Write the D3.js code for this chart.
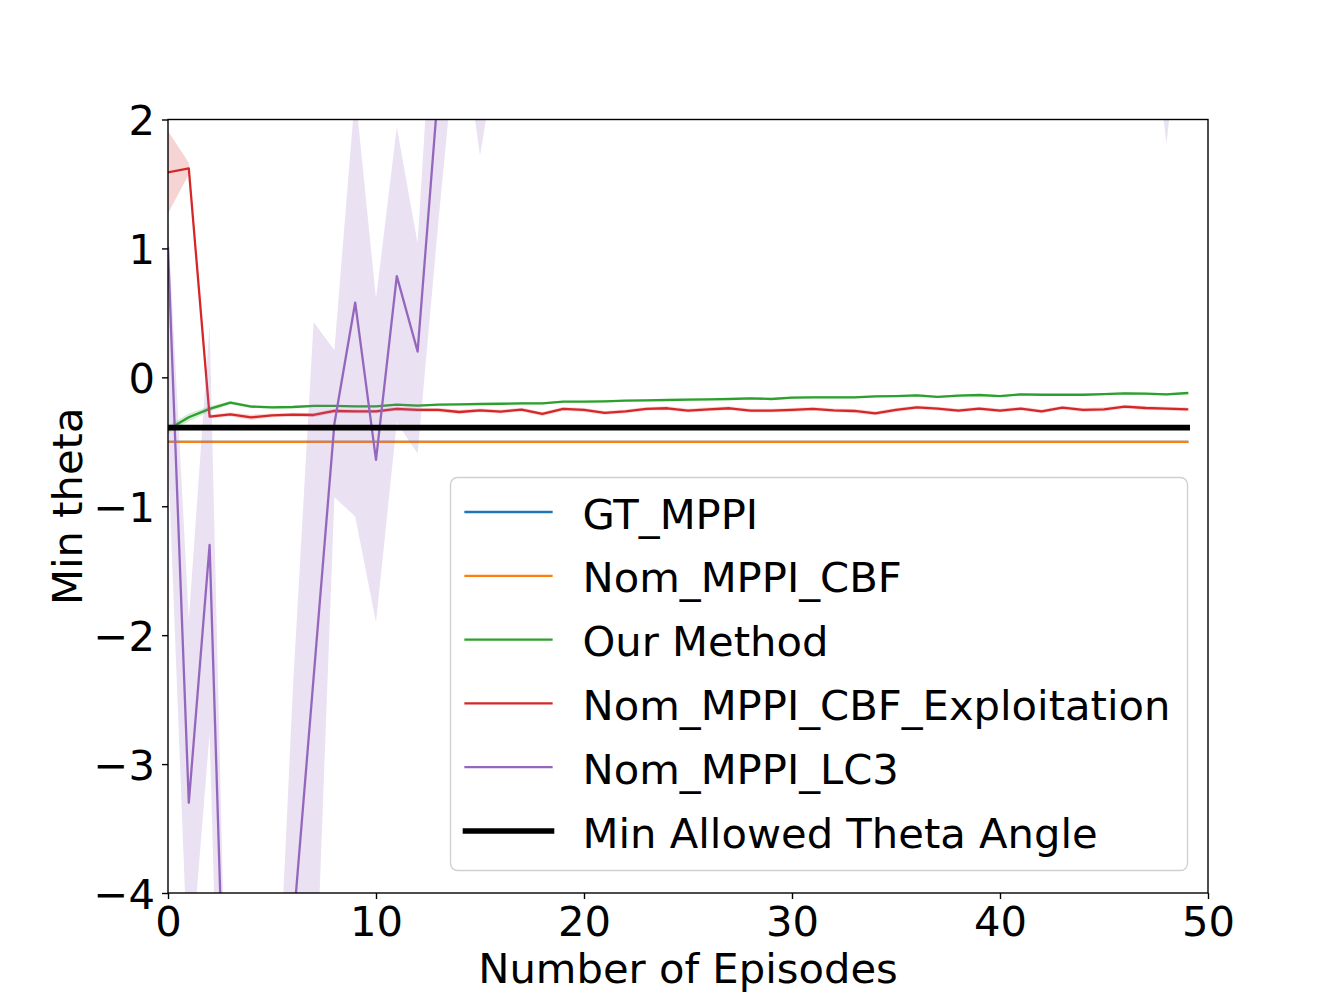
<!DOCTYPE html>
<html>
<head>
<meta charset="utf-8">
<script src="https://cdn.jsdelivr.net/npm/d3@7"></script>
<style>
  body { margin: 0; background: #fff; }
  text { font-family: "DejaVu Sans", sans-serif; fill: #000; }
</style>
</head>
<body>
<div id="chart"></div>
<script>
// episodes 0..49
const episodes = d3.range(0, 50);

const xTicks = [0, 10, 20, 30, 40, 50];
const yTicks = [-4, -3, -2, -1, 0, 1, 2];

// constant reference lines
const gtMppi = -0.5;
const nomMppiCbf = -0.5;
const minAllowed = -0.39;

// Our Method (green)
const ourMethod = [-0.405, -0.31, -0.245, -0.196, -0.227, -0.233, -0.23, -0.222, -0.222, -0.225,
  -0.225, -0.212, -0.22, -0.212, -0.21, -0.207, -0.205, -0.202, -0.202, -0.189,
  -0.189, -0.186, -0.181, -0.178, -0.176, -0.173, -0.171, -0.168, -0.163, -0.168,
  -0.158, -0.155, -0.155, -0.155, -0.147, -0.145, -0.14, -0.152, -0.142, -0.137,
  -0.145, -0.132, -0.135, -0.135, -0.135, -0.13, -0.124, -0.127, -0.132, -0.122];
const ourMethodSpread = [0.03, 0.03, 0.02, 0.012, 0.01, 0.01, 0.01, 0.01, 0.008, 0.008,
  0.008, 0.008, 0.008, 0.008, 0.008, 0.008, 0.008, 0.008, 0.008, 0.008,
  0.008, 0.008, 0.008, 0.008, 0.008, 0.008, 0.008, 0.008, 0.008, 0.008,
  0.008, 0.008, 0.008, 0.008, 0.008, 0.008, 0.008, 0.008, 0.008, 0.008,
  0.008, 0.008, 0.008, 0.008, 0.008, 0.008, 0.008, 0.008, 0.008, 0.008];

// Nom_MPPI_CBF_Exploitation (red)
const exploitation = [1.59, 1.62, -0.305, -0.287, -0.31, -0.295, -0.29, -0.292, -0.261, -0.264,
  -0.264, -0.245, -0.253, -0.253, -0.269, -0.256, -0.266, -0.25, -0.284, -0.245,
  -0.253, -0.276, -0.264, -0.245, -0.24, -0.258, -0.248, -0.24, -0.258, -0.258,
  -0.253, -0.245, -0.256, -0.261, -0.279, -0.253, -0.233, -0.243, -0.258, -0.243,
  -0.258, -0.243, -0.264, -0.235, -0.253, -0.248, -0.227, -0.238, -0.243, -0.248];
const exploitationSpread = [0.32, 0.045, 0.015, 0.015, 0.02, 0.015, 0.015, 0.015, 0.015, 0.015,
  0.015, 0.015, 0.015, 0.015, 0.015, 0.015, 0.015, 0.015, 0.015, 0.015,
  0.015, 0.015, 0.015, 0.015, 0.015, 0.015, 0.015, 0.015, 0.015, 0.015,
  0.015, 0.015, 0.015, 0.015, 0.015, 0.015, 0.015, 0.015, 0.015, 0.015,
  0.015, 0.015, 0.015, 0.015, 0.015, 0.015, 0.015, 0.015, 0.015, 0.015];

// Nom_MPPI_LC3 (purple), most of it runs off the top of the axes
const lc3 = [1.0, -3.3, -1.3, -6.6, -7.5, -6.5, -4.3, -2.33, -0.36, 0.58,
  -0.64, 0.785, 0.2, 2.25, 4.1, 3.0, 3.9, 4.3, 4.6, 4.8,
  4.5, 4.9, 5.1, 4.7, 5.0, 5.2, 4.9, 5.3, 5.1, 5.4,
  5.2, 5.0, 5.5, 5.3, 5.1, 5.4, 5.6, 5.2, 5.5, 5.3,
  5.7, 5.4, 5.6, 5.5, 5.3, 5.8, 5.6, 4.9, 3.4, 5.0];
const lc3Low = [-0.6, -4.76, -2.76, -8.57, -9.0, -8.0, -7.0, -5.24, -0.93, -1.08,
  -1.9, -0.35, -0.59, 1.21, 2.88, 1.72, 2.69, 3.3, 3.5, 3.7,
  3.4, 3.8, 4.0, 3.6, 3.9, 4.1, 3.8, 4.2, 4.0, 4.3,
  4.1, 3.9, 4.4, 4.2, 4.0, 4.3, 4.5, 4.1, 4.4, 4.2,
  4.6, 4.3, 4.5, 4.4, 4.2, 4.7, 4.5, 3.25, 1.81, 3.25];
const lc3High = [1.19, -1.88, 0.41, -6.44, -6.8, -5.9, -2.43, 0.43, 0.21, 2.21,
  0.61, 1.94, 1.04, 3.64, 5.3, 4.3, 5.1, 5.3, 5.7, 5.9,
  5.6, 6.0, 6.2, 5.8, 6.1, 6.3, 6.0, 6.4, 6.2, 6.5,
  6.3, 6.1, 6.6, 6.4, 6.2, 6.5, 6.7, 6.3, 6.6, 6.4,
  6.8, 6.5, 6.7, 6.6, 6.4, 6.9, 6.7, 6.5, 5.0, 6.7];

const legendLabels = ["GT_MPPI", "Nom_MPPI_CBF", "Our Method", "Nom_MPPI_CBF_Exploitation", "Nom_MPPI_LC3", "Min Allowed Theta Angle"];
const legendColors = ["#1f77b4", "#ff7f0e", "#2ca02c", "#d62728", "#9467bd", "#000000"];

const W = 1342, H = 1002;
const margin = { top: 119.5, right: 134, bottom: 109, left: 168 };
const width = W - margin.left - margin.right,
  height = H - margin.top - margin.bottom;
const fs = 41.7;
const lw = 2.3;

const svg = d3.select("#chart").append("svg")
  .attr("width", W)
  .attr("height", H);

svg.append("defs").append("clipPath").attr("id", "plotclip")
  .append("rect").attr("width", width).attr("height", height);

const g = svg.append("g")
  .attr("transform", "translate(" + margin.left + "," + margin.top + ")");

const x = d3.scaleLinear().domain([0, 50]).range([0, width]);
const y = d3.scaleLinear().domain([-4, 2]).range([height, 0]);

const plot = g.append("g").attr("clip-path", "url(#plotclip)");

const line = d3.line().x((d, i) => x(episodes[i])).y(d => y(d));

function band(lo, hi, color) {
  const area = d3.area()
    .x((d, i) => x(episodes[i]))
    .y0((d, i) => y(lo[i]))
    .y1((d, i) => y(hi[i]));
  plot.append("path").datum(episodes)
    .attr("d", area)
    .attr("fill", color)
    .attr("fill-opacity", 0.2)
    .attr("stroke", "none");
}

function drawLine(values, color, w) {
  plot.append("path").datum(values)
    .attr("d", line)
    .attr("fill", "none")
    .attr("stroke", color)
    .attr("stroke-width", w)
    .attr("stroke-linejoin", "round")
    .attr("stroke-linecap", "square");
}

// GT_MPPI and Nom_MPPI_CBF are flat
drawLine(episodes.map(() => gtMppi), legendColors[0], lw);
drawLine(episodes.map(() => nomMppiCbf), legendColors[1], lw);

band(ourMethod.map((v, i) => v - ourMethodSpread[i]), ourMethod.map((v, i) => v + ourMethodSpread[i]), legendColors[2]);
drawLine(ourMethod, legendColors[2], lw);

band(exploitation.map((v, i) => v - exploitationSpread[i]), exploitation.map((v, i) => v + exploitationSpread[i]), legendColors[3]);
drawLine(exploitation, legendColors[3], lw);

band(lc3Low, lc3High, legendColors[4]);
drawLine(lc3, legendColors[4], lw);

drawLine(episodes.map(() => minAllowed), legendColors[5], 5.6);

// axes
const xAxis = g.append("g")
  .attr("transform", "translate(0," + height + ")")
  .call(d3.axisBottom(x).tickValues(xTicks).tickSize(6).tickPadding(7).tickFormat(d3.format("d")));
const yAxis = g.append("g")
  .call(d3.axisLeft(y).tickValues(yTicks).tickSize(6).tickPadding(7).tickFormat(d => d < 0 ? "\u2212" + Math.abs(d) : d));

[xAxis, yAxis].forEach(a => {
  a.select(".domain").remove();
  a.selectAll("line").attr("stroke", "#000").attr("stroke-width", 1.4);
  a.selectAll("text").attr("font-size", fs).attr("font-family", "DejaVu Sans").attr("fill", "#000");
});
yAxis.selectAll("text").attr("dy", "0.36em");

// frame
g.append("rect")
  .attr("width", width).attr("height", height)
  .attr("fill", "none").attr("stroke", "#000").attr("stroke-width", 1.4);

// axis titles
svg.append("text")
  .attr("x", margin.left + width / 2)
  .attr("y", 983)
  .attr("text-anchor", "middle")
  .attr("font-size", fs)
  .text("Number of Episodes");

svg.append("text")
  .attr("transform", "translate(82," + (margin.top + height / 2) + ") rotate(-90)")
  .attr("text-anchor", "middle")
  .attr("font-size", fs)
  .text("Min theta");

// legend
const legend = svg.append("g").attr("transform", "translate(450.5,477.5)");
legend.append("rect")
  .attr("width", 737).attr("height", 393)
  .attr("rx", 7)
  .attr("fill", "#fff").attr("fill-opacity", 0.8)
  .attr("stroke", "#d0d0d0").attr("stroke-width", 1.4);

legendLabels.forEach((lab, i) => {
  const ry = 34.5 + i * 63.8;
  legend.append("line")
    .attr("x1", 15).attr("x2", 101)
    .attr("y1", ry).attr("y2", ry)
    .attr("stroke", legendColors[i])
    .attr("stroke-width", i === 5 ? 5.6 : lw)
    .attr("stroke-linecap", "square");
  legend.append("text")
    .attr("x", 132)
    .attr("y", ry + 16.6)
    .attr("font-size", fs)
    .text(lab);
});
</script>
</body>
</html>
